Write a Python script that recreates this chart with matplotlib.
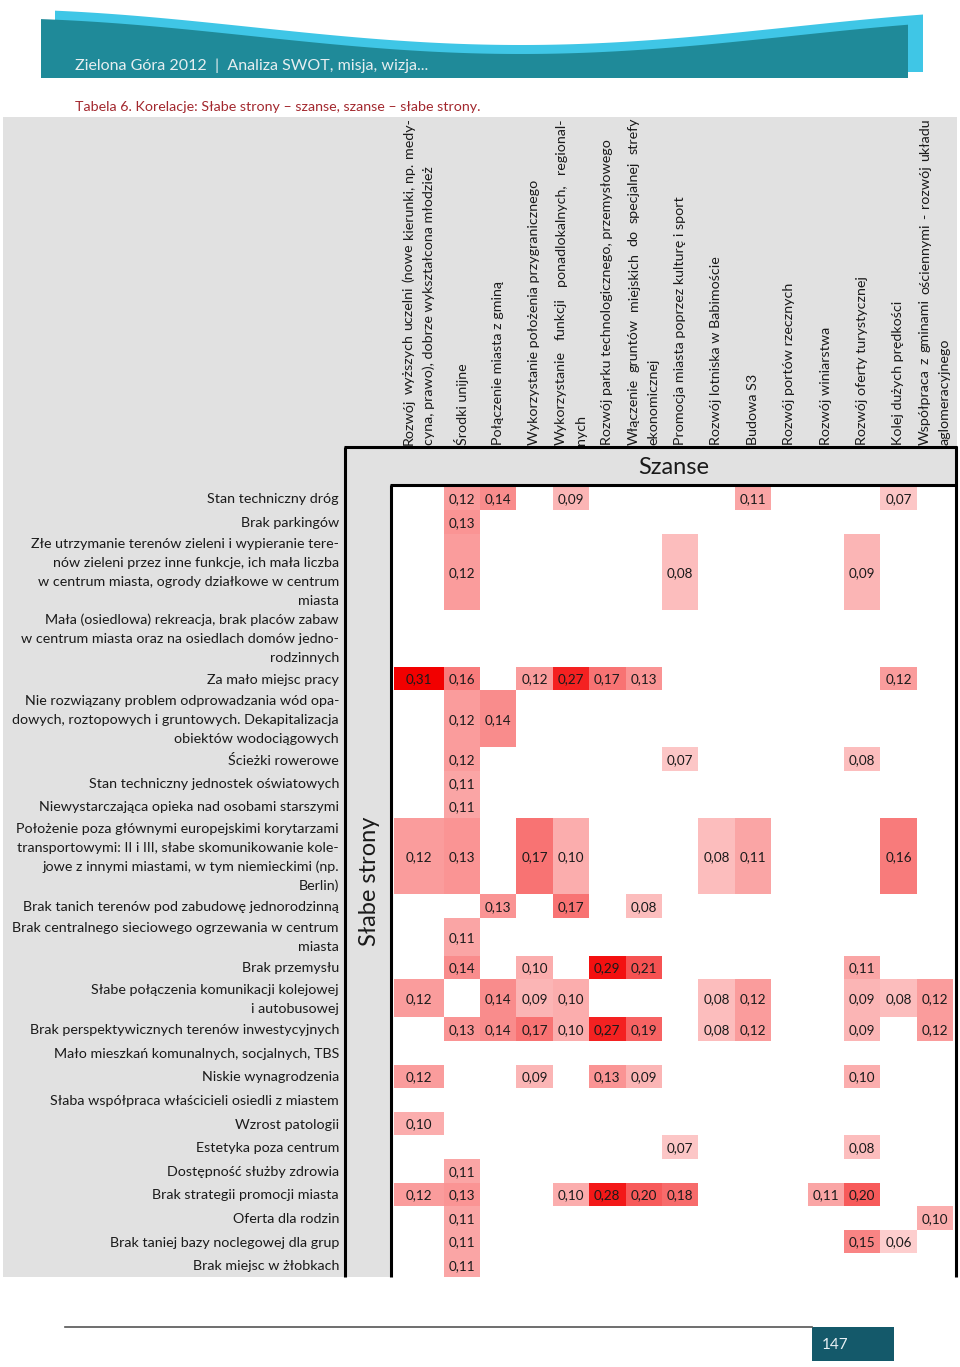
import numpy as np
import matplotlib
matplotlib.use("Agg")
import matplotlib.pyplot as plt
from matplotlib.colors import LinearSegmentedColormap
from matplotlib.patches import Rectangle, Polygon

plt.rcParams['font.family'] = ['Lato', 'DejaVu Sans']

# --- data: opportunities (columns), weaknesses (rows), correlations ---
szanse = [
    "Rozwój wyższych uczelni (nowe kierunki, np. medy-\ncyna, prawo), dobrze wykształcona młodzież",
    "Środki unijne",
    "Połączenie miasta z gminą",
    "Wykorzystanie położenia przygranicznego",
    "Wykorzystanie funkcji ponadlokalnych, regional-\nnych",
    "Rozwój parku technologicznego, przemysłowego",
    "Włączenie gruntów miejskich do specjalnej strefy\nekonomicznej",
    "Promocja miasta poprzez kulturę i sport",
    "Rozwój lotniska w Babimoście",
    "Budowa S3",
    "Rozwój portów rzecznych",
    "Rozwój winiarstwa",
    "Rozwój oferty turystycznej",
    "Kolej dużych prędkości",
    "Współpraca z gminami ościennymi - rozwój układu\naglomeracyjnego",
]

slabe = [
    "Stan techniczny dróg",
    "Brak parkingów",
    "Złe utrzymanie terenów zieleni i wypieranie tere-\nnów zieleni przez inne funkcje, ich mała liczba\nw centrum miasta, ogrody działkowe w centrum\nmiasta",
    "Mała (osiedlowa) rekreacja, brak placów zabaw\nw centrum miasta oraz na osiedlach domów jedno-\nrodzinnych",
    "Za mało miejsc pracy",
    "Nie rozwiązany problem odprowadzania wód opa-\ndowych, roztopowych i gruntowych. Dekapitalizacja\nobiektów wodociągowych",
    "Ścieżki rowerowe",
    "Stan techniczny jednostek oświatowych",
    "Niewystarczająca opieka nad osobami starszymi",
    "Położenie poza głównymi europejskimi korytarzami\ntransportowymi: II i III, słabe skomunikowanie kole-\njowe z innymi miastami, w tym niemieckimi (np.\nBerlin)",
    "Brak tanich terenów pod zabudowę jednorodzinną",
    "Brak centralnego sieciowego ogrzewania w centrum\nmiasta",
    "Brak przemysłu",
    "Słabe połączenia komunikacji kolejowej\ni autobusowej",
    "Brak perspektywicznych terenów inwestycyjnych",
    "Mało mieszkań komunalnych, socjalnych, TBS",
    "Niskie wynagrodzenia",
    "Słaba współpraca właścicieli osiedli z miastem",
    "Wzrost patologii",
    "Estetyka poza centrum",
    "Dostępność służby zdrowia",
    "Brak strategii promocji miasta",
    "Oferta dla rodzin",
    "Brak taniej bazy noclegowej dla grup",
    "Brak miejsc w żłobkach",
]

_ = None
korelacje = [
    [_, .12, .14, _, .09, _, _, _, _, .11, _, _, _, .07, _],
    [_, .13, _, _, _, _, _, _, _, _, _, _, _, _, _],
    [_, .12, _, _, _, _, _, .08, _, _, _, _, .09, _, _],
    [_, _, _, _, _, _, _, _, _, _, _, _, _, _, _],
    [.31, .16, _, .12, .27, .17, .13, _, _, _, _, _, _, .12, _],
    [_, .12, .14, _, _, _, _, _, _, _, _, _, _, _, _],
    [_, .12, _, _, _, _, _, .07, _, _, _, _, .08, _, _],
    [_, .11, _, _, _, _, _, _, _, _, _, _, _, _, _],
    [_, .11, _, _, _, _, _, _, _, _, _, _, _, _, _],
    [.12, .13, _, .17, .10, _, _, _, .08, .11, _, _, _, .16, _],
    [_, _, .13, _, .17, _, .08, _, _, _, _, _, _, _, _],
    [_, .11, _, _, _, _, _, _, _, _, _, _, _, _, _],
    [_, .14, _, .10, _, .29, .21, _, _, _, _, _, .11, _, _],
    [.12, _, .14, .09, .10, _, _, _, .08, .12, _, _, .09, .08, .12],
    [_, .13, .14, .17, .10, .27, .19, _, .08, .12, _, _, .09, _, .12],
    [_, _, _, _, _, _, _, _, _, _, _, _, _, _, _],
    [.12, _, _, .09, _, .13, .09, _, _, _, _, _, .10, _, _],
    [_, _, _, _, _, _, _, _, _, _, _, _, _, _, _],
    [.10, _, _, _, _, _, _, _, _, _, _, _, _, _, _],
    [_, _, _, _, _, _, _, .07, _, _, _, _, .08, _, _],
    [_, .11, _, _, _, _, _, _, _, _, _, _, _, _, _],
    [.12, .13, _, _, .10, .28, .20, .18, _, _, _, .11, .20, _, _],
    [_, .11, _, _, _, _, _, _, _, _, _, _, _, _, .10],
    [_, .11, _, _, _, _, _, _, _, _, _, _, .15, .06, _],
    [_, .11, _, _, _, _, _, _, _, _, _, _, _, _, _],
]

# --- layout (pixels) ---
W, H = 960, 1367
fs = 10.3
line_h = 19
top_grid = 486.5
row_h = [23.6 if s.count("\n") == 0 else 19 * (s.count("\n") + 1) for s in slabe]
y_edges = top_grid + np.concatenate([[0], np.cumsum(row_h)])
x_edges = np.concatenate([[393.5], 443.5 + 36.4 * np.arange(15)])

fig = plt.figure(figsize=(W / 100, H / 100), dpi=100)
ax = fig.add_axes([0, 0, 1, 1])
ax.set_xlim(0, W)
ax.set_ylim(H, 0)
ax.axis('off')
renderer = fig.canvas.get_renderer()

# header wave
xs = np.linspace(41, 908, 200)
wave = 36 + 18 * np.cos(2 * np.pi * (xs - 521) / 1081)
xs2 = np.linspace(55, 923, 200)
wave2 = 27 + 18 * np.cos(2 * np.pi * (xs2 - 521) / 1081)
ax.add_patch(Polygon(np.column_stack([np.r_[xs2, 923, 55], np.r_[wave2, 72, 72]]),
                     closed=True, facecolor='#3fc6e6', edgecolor='none'))
ax.add_patch(Polygon(np.column_stack([np.r_[xs, 908, 41], np.r_[wave, 78, 78]]),
                     closed=True, facecolor='#1f8a99', edgecolor='none'))
ax.text(75, 66, "Zielona Góra 2012  |  Analiza SWOT, misja, wizja...", fontsize=11.5,
        color='#e6eef0', va='center', ha='left')
ax.text(75, 107, "Tabela 6. Korelacje: Słabe strony – szanse, szanse – słabe strony.",
        fontsize=10.3, color='#a3282e', va='center', ha='left')

# table background
ax.add_patch(Rectangle((3, 117), 954, 1160, facecolor='#e1e1e1', edgecolor='none'))
ax.add_patch(Rectangle((391, 485), 566, 792, facecolor='white', edgecolor='none'))

# heatmap cells
vals = np.array([[np.nan if v is None else v for v in r] for r in korelacje])
cmap = LinearSegmentedColormap.from_list('wr', ['#ffffff', '#f20000'])
ax.pcolormesh(x_edges, y_edges, np.ma.masked_invalid(vals), cmap=cmap, vmin=0, vmax=0.31)
for i in range(vals.shape[0]):
    for j in range(vals.shape[1]):
        if not np.isnan(vals[i, j]):
            ax.text((x_edges[j] + x_edges[j + 1]) / 2, (y_edges[i] + y_edges[i + 1]) / 2 + 1,
                    f"{vals[i, j]:.2f}".replace('.', ','), fontsize=9.7, color='#1a1a1a',
                    ha='center', va='center')

# row labels
for i, s in enumerate(slabe):
    lines = s.split("\n")
    yc = (y_edges[i] + y_edges[i + 1]) / 2
    for k, ln in enumerate(lines):
        y = yc + (k - (len(lines) - 1) / 2) * line_h
        ax.text(339, y + 1, ln, fontsize=fs, color='#1a1a1a', ha='right', va='center')


def word_len(s):
    t = ax.text(0, 0, s, fontsize=fs)
    w = t.get_window_extent(renderer=renderer).width
    t.remove()
    return w


# column headers (rotated, first line justified when wrapped)
y_base = 445
full_len = 327
for j, s in enumerate(szanse):
    lines = s.split("\n")
    xc = (x_edges[j] + x_edges[j + 1]) / 2
    for k, ln in enumerate(lines):
        x = xc + (k - (len(lines) - 1) / 2) * 20
        if len(lines) > 1 and k == 0:
            words = ln.split()
            ws = [word_len(w) for w in words]
            gap = (full_len - sum(ws)) / (len(words) - 1)
            y = y_base
            for w, wl in zip(words, ws):
                ax.text(x, y, w, fontsize=fs, color='#1a1a1a', rotation=90,
                        rotation_mode='anchor', ha='left', va='center')
                y -= wl + gap
        else:
            ax.text(x, y_base, ln, fontsize=fs, color='#1a1a1a', rotation=90,
                    rotation_mode='anchor', ha='left', va='center')

# frame lines
lw = 2.2
ax.plot([345, 345], [447, 1277], color='black', lw=lw, solid_capstyle='butt')
ax.plot([344, 957], [447, 447], color='black', lw=lw, solid_capstyle='butt')
ax.plot([956, 956], [446, 1277], color='black', lw=lw, solid_capstyle='butt')
ax.plot([391, 391], [485, 1277], color='black', lw=lw, solid_capstyle='butt')
ax.plot([390, 957], [485, 485], color='black', lw=lw, solid_capstyle='butt')

ax.text(674, 467, "Szanse", fontsize=17, color='#1a1a1a', ha='center', va='center')
ax.text(369, 881, "Słabe strony", fontsize=17, color='#1a1a1a', ha='center', va='center',
        rotation=90)

# footer
ax.plot([65, 812], [1327, 1327], color='#555555', lw=1.2)
ax.add_patch(Rectangle((812, 1327), 82, 34, facecolor='#14596a', edgecolor='none'))
ax.text(822, 1345, "147", fontsize=11, color='#e8f0f4', ha='left', va='center')

fig.savefig("out.png", dpi=100)
